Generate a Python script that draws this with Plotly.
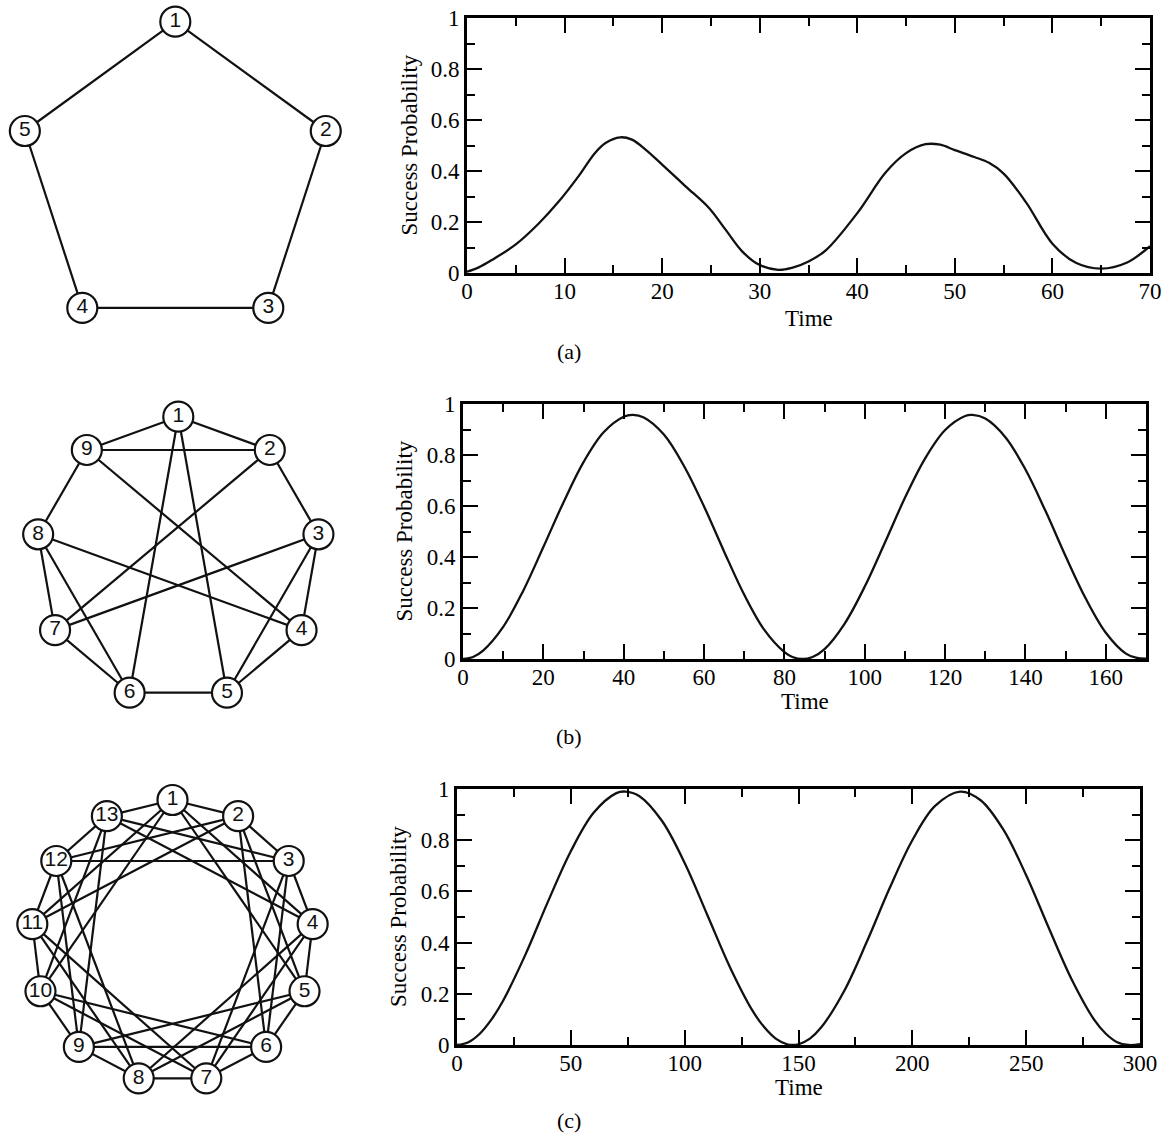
import math
import plotly.graph_objects as go

W, H = 1166, 1133

# ---------------- success probability curves ----------------
TIME_A = [0, 1.2, 2.5, 5, 7.3, 9.4, 11.4, 13.1, 14.2, 15.7, 16.9, 18.3, 20, 22.4, 24.8, 26.5,
          28.2, 29.9, 31.9, 33.3, 35, 36.8, 40, 42.9, 45, 47, 48.5, 50, 52, 53.5, 55,
          57.3, 60, 62.4, 65, 67.6, 70]
PROB_A = [0.005, 0.022, 0.05, 0.112, 0.192, 0.28, 0.378, 0.47, 0.51, 0.532, 0.523, 0.484, 0.425,
          0.34, 0.255, 0.17, 0.085, 0.033, 0.012, 0.02, 0.045, 0.09, 0.235, 0.394, 0.47,
          0.505, 0.503, 0.482, 0.455, 0.432, 0.39, 0.277, 0.115, 0.04, 0.017, 0.04, 0.105]

TIME_B = [0, 2.5, 5, 10, 15, 20, 25, 30, 35, 40, 42.3, 45, 50, 55, 60, 65, 70, 75, 80, 82,
          84.5, 87, 90, 95, 100, 105, 110, 115, 120, 125, 126.8, 130, 135, 140, 145, 150,
          155, 160, 165, 167.5, 170]
PROB_B = [0, 0.008, 0.033, 0.126, 0.268, 0.439, 0.614, 0.772, 0.889, 0.95, 0.957, 0.947,
          0.88, 0.757, 0.598, 0.421, 0.252, 0.114, 0.027, 0.008, 0, 0.008, 0.039, 0.139,
          0.284, 0.456, 0.632, 0.786, 0.898, 0.953, 0.957, 0.943, 0.87, 0.743, 0.58, 0.403,
          0.237, 0.103, 0.021, 0.005, 0.001]

TIME_C = [0, 5, 10, 15, 20, 30, 40, 50, 60, 70, 74, 80, 90, 100, 110, 120, 130, 135, 140,
          145, 147.5, 150, 155, 160, 170, 180, 190, 200, 210, 221, 230, 240, 250, 260, 270,
          280, 285, 290, 295, 300]
PROB_C = [0, 0.011, 0.044, 0.098, 0.169, 0.352, 0.561, 0.757, 0.907, 0.984, 0.99, 0.973,
          0.876, 0.711, 0.507, 0.302, 0.131, 0.069, 0.025, 0.003, 0, 0.003, 0.025, 0.069,
          0.21, 0.403, 0.612, 0.8, 0.934, 0.99, 0.956, 0.841, 0.663, 0.456, 0.256, 0.097,
          0.044, 0.011, 0, 0.003]

# ---------------- graphs ----------------
LABELS_A = ["1", "2", "3", "4", "5"]
EDGES_A = [(1, 2), (2, 3), (3, 4), (4, 5), (5, 1)]

LABELS_B = ["1", "2", "3", "4", "5", "6", "7", "8", "9"]
EDGES_B = [(1, 2), (1, 9), (2, 9), (2, 3), (8, 9), (7, 8), (6, 8), (4, 8), (6, 7),
           (2, 7), (3, 7), (5, 6), (1, 6), (1, 5), (4, 5), (3, 5), (3, 4), (4, 9)]

LABELS_C = ["1", "2", "3", "4", "5", "6", "7", "8", "9", "10", "11", "12", "13"]
EDGES_C = [(1, 2), (1, 4), (1, 5), (1, 10), (1, 11), (1, 13),
           (2, 3), (2, 5), (2, 6), (2, 11), (2, 12),
           (3, 4), (3, 6), (3, 7), (3, 12), (3, 13),
           (4, 5), (4, 7), (4, 8), (4, 13),
           (5, 6), (5, 8), (5, 9),
           (6, 7), (6, 9), (6, 10),
           (7, 8), (7, 10), (7, 11),
           (8, 9), (8, 11), (8, 12),
           (9, 10), (9, 12), (9, 13),
           (10, 11), (10, 13),
           (11, 12),
           (12, 13)]

# ---------------- layout in pixels ----------------
# plot boxes: (left, right, top, bottom)
BOXES = [(467, 1150, 18, 273), (463, 1146, 404, 659), (457, 1140, 789, 1045)]
# graph centres / radii
GRAPH_GEOM = [(175.3, 179.9, 158.2), (178.3, 559.0, 142.3), (172.5, 941.2, 141.2)]

FONT_SERIF = "Liberation Serif"
FONT_SANS = "Liberation Sans"

fig = go.Figure()

curves = [(TIME_A, PROB_A, 70, 10, 5), (TIME_B, PROB_B, 170, 20, 10), (TIME_C, PROB_C, 300, 50, 25)]
labels = ["(a)", "(b)", "(c)"]
label_y = [351, 736, 1120]
ytitle_x = [409, 404, 398]
xtitle_y = [318, 701, 1087]

for i, (t, p, tmax, dmaj, dmin) in enumerate(curves):
    n = i + 1
    xa = "x" if n == 1 else f"x{n}"
    ya = "y" if n == 1 else f"y{n}"
    fig.add_trace(go.Scatter(x=t, y=p, mode="lines", xaxis=xa, yaxis=ya,
                             line=dict(color="#111", width=2.3, shape="spline", smoothing=1.0),
                             showlegend=False, hoverinfo="skip"))
    left, right, top, bottom = BOXES[i]
    common = dict(showline=True, linewidth=2.6, linecolor="black", mirror="ticks",
                  ticks="inside", ticklen=15, tickwidth=2.2, tickcolor="black",
                  showgrid=False, zeroline=False, automargin=False,
                  tickfont=dict(family=FONT_SERIF, size=23, color="black"))
    fig.update_layout({
        f"xaxis{'' if n == 1 else n}": dict(
            common, domain=[left / W, right / W], range=[0, tmax], dtick=dmaj, tick0=0,
            anchor=ya, ticklabelstandoff=-4,
            minor=dict(ticks="inside", ticklen=8, tickwidth=2.2, tickcolor="black", dtick=dmin)),
        f"yaxis{'' if n == 1 else n}": dict(
            common, domain=[1 - bottom / H, 1 - top / H], range=[0, 1], dtick=0.2, tick0=0,
            anchor=xa,
            minor=dict(ticks="inside", ticklen=8, tickwidth=2.2, tickcolor="black", dtick=0.1)),
    })
    fig.add_annotation(x=(left + right) / 2 / W, y=1 - xtitle_y[i] / H, xref="paper", yref="paper",
                       text="Time", showarrow=False, xanchor="center", yanchor="middle",
                       font=dict(family=FONT_SERIF, size=23, color="black"))
    fig.add_annotation(x=ytitle_x[i] / W, y=1 - (top + bottom) / 2 / H, xref="paper", yref="paper",
                       text="Success Probability", showarrow=False, textangle=-90,
                       xanchor="center", yanchor="middle",
                       font=dict(family=FONT_SERIF, size=23, color="black"))
    fig.add_annotation(x=569 / W, y=1 - label_y[i] / H, xref="paper", yref="paper",
                       text=labels[i], showarrow=False, xanchor="center", yanchor="middle",
                       font=dict(family=FONT_SERIF, size=22, color="black"))

# graph drawings on a pixel-unit axis
graphs = [(LABELS_A, EDGES_A), (LABELS_B, EDGES_B), (LABELS_C, EDGES_C)]
for (lab, edges), (cx, cy, r) in zip(graphs, GRAPH_GEOM):
    n = len(lab)
    px = [cx + r * math.cos(math.pi / 2 - 2 * math.pi * k / n) for k in range(n)]
    py = [cy - r * math.sin(math.pi / 2 - 2 * math.pi * k / n) for k in range(n)]
    ex, ey = [], []
    for a, b in edges:
        ex += [px[a - 1], px[b - 1], None]
        ey += [py[a - 1], py[b - 1], None]
    fig.add_trace(go.Scatter(x=ex, y=ey, mode="lines", xaxis="x4", yaxis="y4",
                             line=dict(color="#111", width=2.2), showlegend=False, hoverinfo="skip"))
    fig.add_trace(go.Scatter(x=px, y=py, mode="markers+text", xaxis="x4", yaxis="y4",
                             text=lab, textposition="middle center",
                             textfont=dict(family=FONT_SANS, size=21, color="#111"),
                             marker=dict(size=30, color="white", line=dict(color="#111", width=2.2)),
                             showlegend=False, hoverinfo="skip"))

fig.update_layout(
    xaxis4=dict(domain=[0, 360 / W], range=[0, 360], visible=False, anchor="y4", automargin=False),
    yaxis4=dict(domain=[0, 1], range=[H, 0], visible=False, anchor="x4", automargin=False),
    width=W, height=H, margin=dict(l=0, r=0, t=0, b=0, autoexpand=False),
    paper_bgcolor="white", plot_bgcolor="white", showlegend=False,
)

# pin the figure to the top-left corner of the page
PIN_PAGE = ("document.documentElement.style.overflow='hidden';"
            "document.body.style.margin='0';document.body.style.overflow='hidden';"
            "var g=document.querySelector('.plotly-graph-div');"
            "g.style.position='fixed';g.style.left='0px';g.style.top='0px';")

fig.write_html("out.html", config={"displayModeBar": False}, post_script=PIN_PAGE)
